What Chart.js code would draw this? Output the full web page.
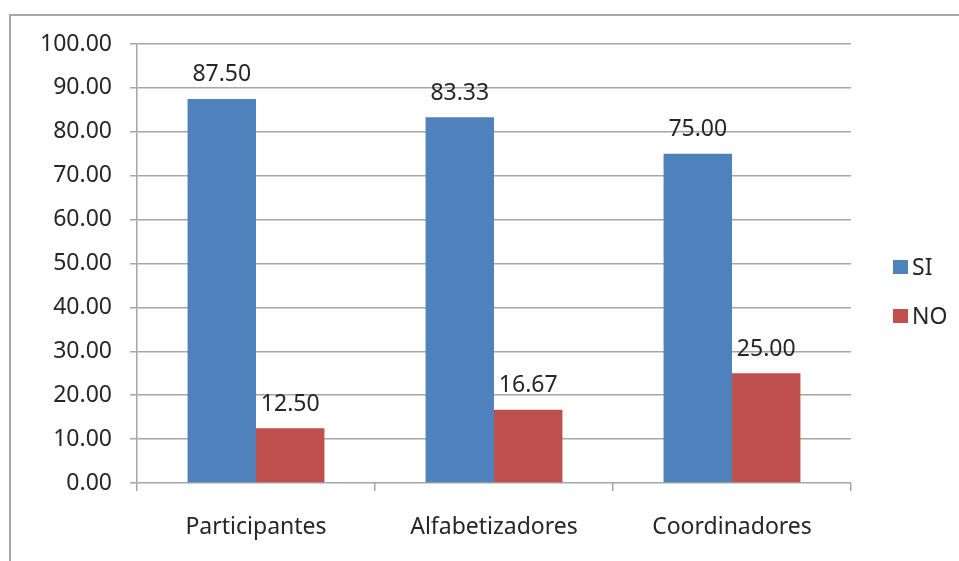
<!DOCTYPE html>
<html>
<head>
<meta charset="utf-8">
<script src="https://cdn.jsdelivr.net/npm/chart.js@4/dist/chart.umd.min.js"></script>
<style>
html,body{margin:0;padding:0;background:#fff;}
#wrap{position:absolute;left:0;top:0;width:959px;height:561px;}
</style>
</head>
<body>
<div id="wrap"><canvas id="c"></canvas></div>
<script>
const categories = ["Participantes", "Alfabetizadores", "Coordinadores"];
const seriesNames = ["SI", "NO"];
const siValues = [87.50, 83.33, 75.00];
const noValues = [12.50, 16.67, 25.00];
const yTicks = [0, 10, 20, 30, 40, 50, 60, 70, 80, 90, 100];

const colors = ["#4F81BD", "#C0504D"];
const FONT = "'Noto Sans', 'Liberation Sans', sans-serif";
const FS = 23;

const framePlugin = {
  id: 'frame',
  beforeDraw(chart) {
    const ctx = chart.ctx;
    ctx.save();
    ctx.fillStyle = '#fff';
    ctx.fillRect(0, 0, chart.width, chart.height);
    ctx.strokeStyle = '#a6a6a6';
    ctx.lineWidth = 2;
    ctx.strokeRect(10, 15, 2000, 2000);
    ctx.restore();
  }
};

const labelPlugin = {
  id: 'valueLabels',
  afterDatasetsDraw(chart) {
    const ctx = chart.ctx;
    ctx.save();
    ctx.font = FS + "px " + FONT;
    ctx.fillStyle = '#262626';
    ctx.textAlign = 'center';
    ctx.textBaseline = 'middle';
    chart.data.datasets.forEach((ds, i) => {
      const meta = chart.getDatasetMeta(i);
      meta.data.forEach((bar, j) => {
        ctx.fillText(Number(ds.data[j]).toFixed(2), bar.x, bar.y - 24);
      });
    });
    ctx.restore();
  }
};

const legendPlugin = {
  id: 'sideLegend',
  afterDraw(chart) {
    const ctx = chart.ctx;
    ctx.save();
    ctx.font = FS + "px " + FONT;
    ctx.textBaseline = 'middle';
    ctx.textAlign = 'left';
    const ys = [267, 316];
    chart.data.datasets.forEach((ds, i) => {
      ctx.fillStyle = ds.backgroundColor;
      ctx.fillRect(893, ys[i] - 7, 15, 14);
      ctx.fillStyle = '#262626';
      ctx.fillText(ds.label, 912, ys[i] + 1);
    });
    ctx.restore();
  }
};

new Chart(document.getElementById('c'), {
  type: 'bar',
  data: {
    labels: categories,
    datasets: [
      { label: seriesNames[0], data: siValues, backgroundColor: colors[0], borderWidth: 0 },
      { label: seriesNames[1], data: noValues, backgroundColor: colors[1], borderWidth: 0 }
    ]
  },
  options: {
    responsive: true,
    maintainAspectRatio: false,
    animation: false,
    devicePixelRatio: 1,
    layout: { padding: { top: 44, right: 108, bottom: 0, left: 0 } },
    datasets: { bar: { categoryPercentage: 0.575, barPercentage: 1.0 } },
    plugins: { legend: { display: false }, tooltip: { enabled: false } },
    scales: {
      x: {
        grid: { drawOnChartArea: false, drawTicks: true, tickLength: 8, color: '#a6a6a6', lineWidth: 1.5 },
        border: { display: false },
        ticks: { font: { family: FONT, size: FS }, color: '#262626', padding: 23, maxRotation: 0 },
        afterFit(s) { s.height = 78; }
      },
      y: {
        min: 0, max: 100,
        afterBuildTicks(s) { s.ticks = yTicks.map(v => ({ value: v })); },
        grid: { color: '#a6a6a6', lineWidth: 1.5, tickLength: 7 },
        border: { display: true, color: '#a6a6a6', width: 1.5 },
        ticks: {
          font: { family: FONT, size: FS }, color: '#262626', padding: 18,
          callback: v => Number(v).toFixed(2)
        },
        afterFit(s) { s.width = 137; }
      }
    }
  },
  plugins: [framePlugin, labelPlugin, legendPlugin]
});
</script>
</body>
</html>
